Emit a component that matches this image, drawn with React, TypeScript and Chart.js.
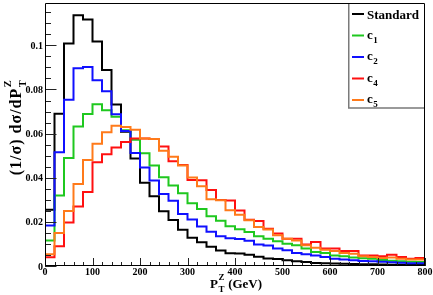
import React, { useEffect, useRef } from "react";
import { Chart, registerables } from "chart.js";

Chart.register(...registerables);

// Bin low edges (GeV), bin width 20 GeV, last edge 800
const binEdges = [
  0, 20, 40, 60, 80, 100, 120, 140, 160, 180, 200, 220, 240, 260, 280, 300, 320, 340, 360, 380,
  400, 420, 440, 460, 480, 500, 520, 540, 560, 580, 600, 620, 640, 660, 680, 700, 720, 740, 760, 780,
];
const xMaxEdge = 800;

const standard = [
  0.0255, 0.069, 0.1008, 0.1137, 0.1117, 0.1017, 0.0888, 0.0732, 0.0608, 0.0487, 0.0377, 0.0316,
  0.0248, 0.0208, 0.0164, 0.0128, 0.0108, 0.0087, 0.007, 0.0058, 0.0057, 0.0051, 0.0042, 0.0034,
  0.0032, 0.0026, 0.0022, 0.0018, 0.0014, 0.0013, 0.0011, 0.001, 0.0009, 0.0008, 0.0008, 0.0007,
  0.0006, 0.0006, 0.0005, 0.0005,
];
const c1 = [
  0.0116, 0.032, 0.049, 0.0632, 0.0689, 0.0733, 0.0706, 0.0676, 0.0615, 0.0572, 0.0511, 0.0456,
  0.0402, 0.0365, 0.033, 0.0284, 0.0258, 0.0226, 0.0205, 0.018, 0.0166, 0.0154, 0.0135, 0.0124,
  0.0112, 0.0101, 0.0094, 0.0079, 0.0064, 0.0059, 0.0048, 0.0044, 0.0038, 0.0035, 0.0033, 0.0027,
  0.0024, 0.0021, 0.0019, 0.0018,
];
const c2 = [
  0.0184, 0.0515, 0.0754, 0.0896, 0.0902, 0.0842, 0.0792, 0.0688, 0.0612, 0.0512, 0.0447, 0.0388,
  0.0326, 0.0296, 0.0236, 0.0211, 0.0179, 0.0155, 0.0135, 0.0126, 0.0122, 0.0114, 0.0098, 0.0093,
  0.0079, 0.0071, 0.0059, 0.0053, 0.0048, 0.0041, 0.0033, 0.0029, 0.0026, 0.0023, 0.0022, 0.0019,
  0.0017, 0.0015, 0.0013, 0.0012,
];
const c4 = [
  0.004, 0.009, 0.0197, 0.027, 0.0335, 0.047, 0.0507, 0.0537, 0.0562, 0.0578, 0.0578, 0.0576,
  0.0542, 0.0475, 0.0458, 0.039, 0.0389, 0.0344, 0.0299, 0.0297, 0.0252, 0.021, 0.0204, 0.0169,
  0.0147, 0.0124, 0.0124, 0.0098, 0.0109, 0.0079, 0.0079, 0.0068, 0.0068, 0.0048, 0.0048, 0.0044,
  0.0051, 0.0041, 0.0033, 0.0036,
];
const c5 = [
  0.0053, 0.015, 0.0249, 0.0372, 0.048, 0.0554, 0.0606, 0.0636, 0.063, 0.0618, 0.0578, 0.0576,
  0.0522, 0.0495, 0.0455, 0.0401, 0.0362, 0.0302, 0.0298, 0.0253, 0.0232, 0.0207, 0.0177, 0.0165,
  0.0139, 0.0124, 0.0116, 0.0094, 0.0083, 0.0074, 0.0068, 0.0059, 0.0056, 0.0044, 0.0041, 0.0036,
  0.0038, 0.0033, 0.0029, 0.0029,
];

const seriesNames = ["Standard", "c", "c", "c", "c"];
const seriesSubs = ["", "1", "2", "4", "5"];
const seriesValues = [standard, c1, c2, c4, c5];
const seriesColors = ["#000000", "#1fc81f", "#1010ff", "#ff1010", "#ff7a1a"];

const xTicks = [0, 100, 200, 300, 400, 500, 600, 700, 800];
const xMinorStep = 20;
const yTicks = [0, 0.02, 0.04, 0.06, 0.08, 0.1];
const yTickLabels = ["0", "0.02", "0.04", "0.06", "0.08", "0.1"];
const yMinorStep = 0.005;
const yMax = 0.1192;

const FONT = '"Liberation Serif", "Times New Roman", serif';

function histPoints(vals: number[]) {
  const pts = binEdges.map((e, i) => ({ x: e, y: vals[i] }));
  pts.push({ x: xMaxEdge, y: vals[vals.length - 1] });
  return pts;
}

const decorPlugin = {
  id: "decor",
  afterDraw(chart: any) {
    const ctx: CanvasRenderingContext2D = chart.ctx;
    const { left, right, top, bottom } = chart.chartArea;
    const xs = chart.scales.x;
    const ys = chart.scales.y;
    ctx.save();

    // ticks
    ctx.strokeStyle = "#222";
    ctx.lineWidth = 1;
    const yMajLen = 11.5;
    const yMinLen = 6;
    for (let v = 0; v <= yMax + 1e-9; v += yMinorStep) {
      const py = Math.round(ys.getPixelForValue(v)) + 0.5;
      const isMajor = Math.abs(v / 0.02 - Math.round(v / 0.02)) < 1e-6;
      ctx.beginPath();
      ctx.moveTo(left, py);
      ctx.lineTo(left + (isMajor ? yMajLen : yMinLen), py);
      ctx.stroke();
    }
    const xMajLen = 8;
    const xMinLen = 4;
    for (let v = 0; v <= xMaxEdge; v += xMinorStep) {
      const px = Math.round(xs.getPixelForValue(v)) + 0.5;
      const isMajor = v % 100 === 0;
      ctx.beginPath();
      ctx.moveTo(px, bottom);
      ctx.lineTo(px, bottom - (isMajor ? xMajLen : xMinLen));
      ctx.stroke();
    }

    // frame
    ctx.strokeStyle = "#000";
    ctx.lineWidth = 1;
    ctx.beginPath();
    ctx.moveTo(left + 0.5, top + 0.5);
    ctx.lineTo(right - 0.5, top + 0.5);
    ctx.lineTo(right - 0.5, bottom - 0.5);
    ctx.lineTo(left + 0.5, bottom - 0.5);
    ctx.closePath();
    ctx.stroke();

    // tick labels
    ctx.fillStyle = "#000";
    ctx.font = `bold 10px ${FONT}`;
    ctx.textAlign = "right";
    ctx.textBaseline = "alphabetic";
    yTicks.forEach((v, i) => {
      const py = ys.getPixelForValue(v);
      ctx.fillText(yTickLabels[i], left - 2, py + 3.5);
    });
    ctx.textAlign = "center";
    xTicks.forEach((v) => {
      const px = xs.getPixelForValue(v);
      ctx.fillText(String(v), px, bottom + 9);
    });

    // axis titles
    const drawTitle = (
      main: string,
      after: string,
      cx: number,
      cy: number,
      big: number,
      small: number,
      spacing: number
    ) => {
      const c: any = ctx;
      c.letterSpacing = `${spacing}px`;
      ctx.font = `bold ${big}px ${FONT}`;
      const w1 = ctx.measureText(main).width;
      const w3 = after ? ctx.measureText(after).width : 0;
      ctx.font = `bold ${small}px ${FONT}`;
      const w2 = Math.max(ctx.measureText("T").width, ctx.measureText("Z").width);
      const total = w1 + w2 + 1 + w3;
      let x0 = cx - total / 2;
      ctx.textAlign = "left";
      ctx.textBaseline = "alphabetic";
      ctx.font = `bold ${big}px ${FONT}`;
      ctx.fillText(main, x0, cy);
      x0 += w1;
      ctx.font = `bold ${small}px ${FONT}`;
      ctx.fillText("T", x0 + 0.5, cy + small * 0.45);
      ctx.fillText("Z", x0 + 0.5, cy - big * 0.6);
      x0 += w2 + 1;
      if (after) {
        ctx.font = `bold ${big}px ${FONT}`;
        ctx.fillText(after, x0, cy);
      }
      c.letterSpacing = "0px";
    };
    drawTitle("P", " (GeV)", 236, 288, 13, 9, 0);

    ctx.save();
    ctx.translate(21, 127);
    ctx.rotate(-Math.PI / 2);
    drawTitle("(1/\u03c3) d\u03c3/dP", "", 0, 0, 16, 10.5, 1);
    ctx.restore();

    // legend
    const lx0 = 348;
    const ly1 = 108;
    ctx.fillStyle = "#fff";
    ctx.fillRect(lx0, top + 1, right - 1 - lx0, ly1 - top - 1);
    ctx.strokeStyle = "#7a7a7a";
    ctx.lineWidth = 1.5;
    ctx.beginPath();
    ctx.moveTo(lx0 + 0.75, top + 1);
    ctx.lineTo(lx0 + 0.75, ly1);
    ctx.lineTo(right - 1, ly1);
    ctx.stroke();
    const rows = [14, 35.5, 57, 78.5, 100];
    seriesNames.forEach((name, i) => {
      const ry = rows[i];
      ctx.strokeStyle = seriesColors[i];
      ctx.lineWidth = 2;
      ctx.beginPath();
      ctx.moveTo(352, ry);
      ctx.lineTo(364, ry);
      ctx.stroke();
      ctx.fillStyle = "#000";
      ctx.textAlign = "left";
      ctx.font = `bold 13px ${FONT}`;
      if (seriesSubs[i] === "") {
        ctx.fillText(name, 367, ry + 4.5);
      } else {
        ctx.fillText(name, 367, ry + 3);
        const w = ctx.measureText(name).width;
        ctx.font = `bold 9px ${FONT}`;
        ctx.fillText(seriesSubs[i], 367 + w + 0.5, ry + 7);
      }
    });

    ctx.restore();
  },
};

export default function App() {
  const ref = useRef<HTMLCanvasElement>(null);
  useEffect(() => {
    document.body.style.margin = "0";
    const canvas = ref.current;
    if (!canvas) return;
    const datasets = seriesValues.map((vals, i) => ({
      label: seriesNames[i] + seriesSubs[i],
      data: histPoints(vals),
      borderColor: seriesColors[i],
      backgroundColor: seriesColors[i],
      borderWidth: 2,
      pointRadius: 0,
      fill: false,
      stepped: true as const,
      tension: 0,
      order: 5 - i,
    }));
    const chart = new Chart(canvas, {
      type: "line",
      data: { datasets },
      options: {
        animation: false,
        responsive: false,
        devicePixelRatio: 1,
        layout: { padding: { left: 45, right: 8, top: 3, bottom: 29 } },
        scales: {
          x: { type: "linear", min: 0, max: xMaxEdge, display: false },
          y: { type: "linear", min: 0, max: yMax, display: false },
        },
        plugins: {
          legend: { display: false },
          tooltip: { enabled: false },
        },
      },
      plugins: [decorPlugin],
    });
    return () => chart.destroy();
  }, []);
  return (
    <div style={{ width: 433, height: 295, background: "#fff" }}>
      <canvas ref={ref} width={433} height={295} style={{ display: "block", width: 433, height: 295 }} />
    </div>
  );
}
